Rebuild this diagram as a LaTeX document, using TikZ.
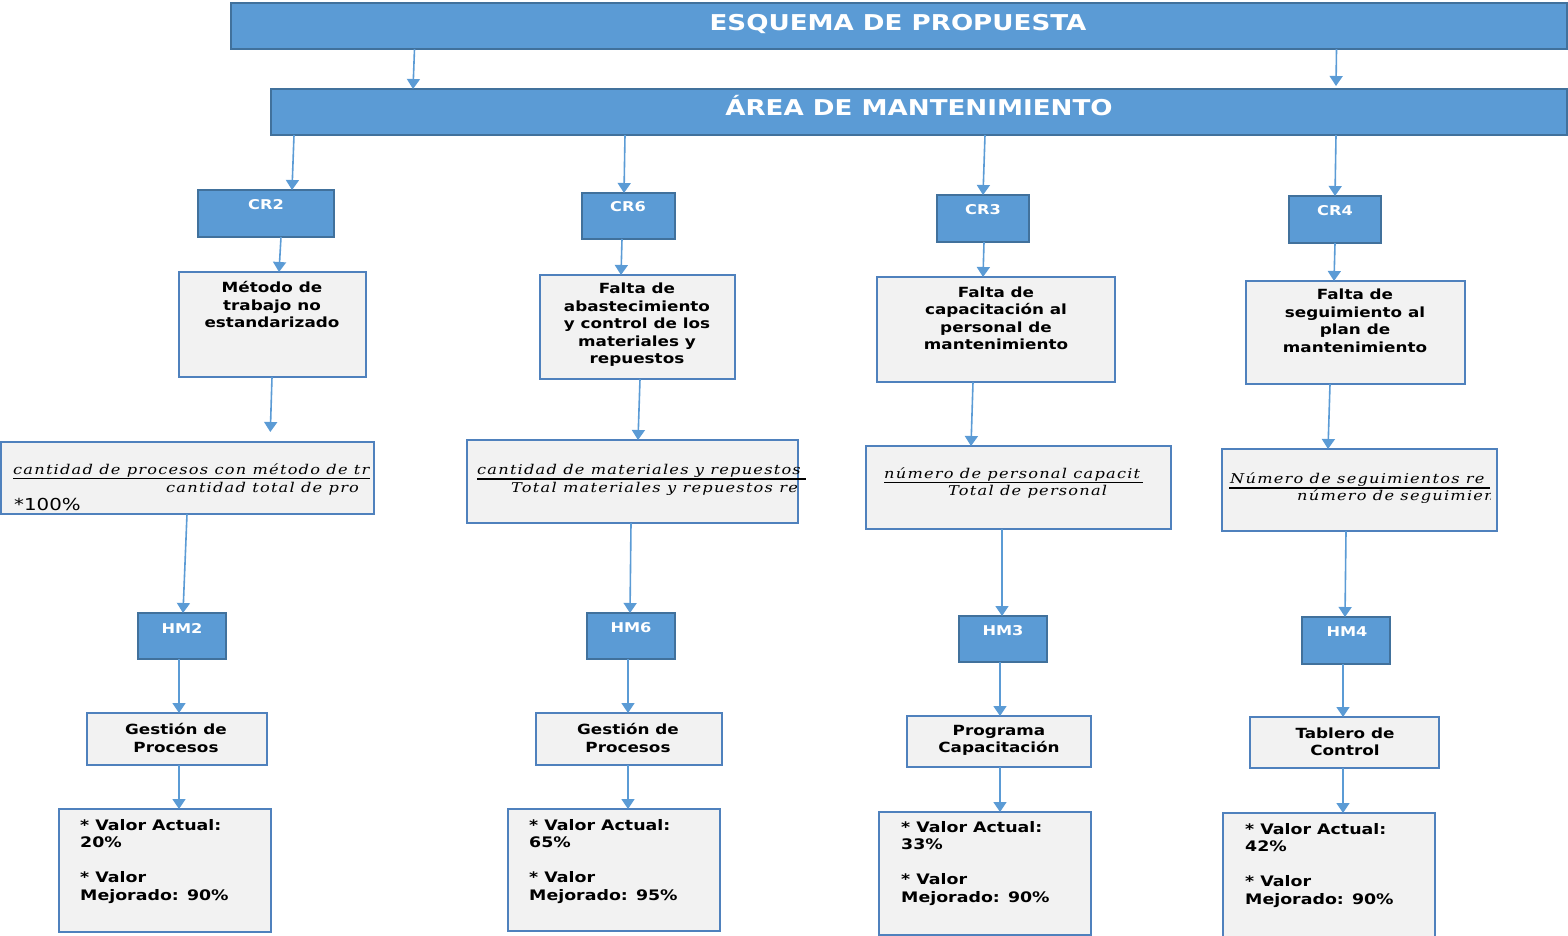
\documentclass[tikz,border=0pt]{standalone}
\usepackage{fontspec}
\usetikzlibrary{arrows.meta}
\newfontfamily\dvs[FakeStretch=1.2]{DejaVu Sans}
\newfontfamily\eqf[FakeStretch=1.2,LetterSpace=9]{DejaVu Serif}
\definecolor{boxblue}{HTML}{5B9BD5}
\definecolor{boxedge}{HTML}{41719C}
\definecolor{panel}{HTML}{F2F2F2}
\definecolor{panedge}{HTML}{4F81BD}
\begin{document}
\begin{tikzpicture}[x=1pt,y=-1pt,
  bluebox/.style={draw=boxedge, fill=boxblue, line width=1.4pt, inner sep=0pt, outer sep=0pt},
  greybox/.style={draw=panedge, fill=panel, line width=1.4pt, inner sep=0pt, outer sep=0pt},
  link/.style={draw=boxblue, line width=1.6pt, -{Triangle[width=13pt,length=10pt]}},
  head/.style={text=white, font=\dvs\bfseries\fontsize{21.8}{25}\selectfont, inner sep=0pt, anchor=base},
  tag/.style={text=white, font=\dvs\bfseries\fontsize{13.5}{15}\selectfont, inner sep=0pt},
  body/.style={font=\dvs\bfseries\fontsize{14}{17.5}\selectfont, inner sep=0pt, align=center},
  vals/.style={font=\dvs\bfseries\fontsize{14.5}{17.5}\selectfont, inner sep=0pt, align=left, anchor=north west},
  eq/.style={font=\eqf\itshape\fontsize{13.5}{15}\selectfont, inner sep=0pt, anchor=base west},
  pct/.style={font=\dvs\fontsize{16.5}{18}\selectfont, inner sep=0pt, anchor=base west},
  barline/.style={line width=1.6pt, black},
]
\useasboundingbox (0,0) rectangle (1568,935);

% banners
\node[bluebox, minimum width=1336, minimum height=46] (top) at (899,26) {};
\node[head] (toptxt) at (898,30) {ESQUEMA DE PROPUESTA};
\node[bluebox, minimum width=1296, minimum height=46] (area) at (919,112) {};
\node[head] (areatxt) at (919,115) {ÁREA DE MANTENIMIENTO};

% causes (CR)
\node[bluebox, minimum width=136, minimum height=47] (cr2) at (266,213.5) {};
\node[tag] (cr2t) at (266,205) {CR2};
\node[bluebox, minimum width=93, minimum height=46] (cr6) at (628.5,216) {};
\node[tag] (cr6t) at (628,207) {CR6};
\node[bluebox, minimum width=92, minimum height=47] (cr3) at (983,218.5) {};
\node[tag] (cr3t) at (983,210) {CR3};
\node[bluebox, minimum width=92, minimum height=47] (cr4) at (1335,219.5) {};
\node[tag] (cr4t) at (1335,211) {CR4};

% problem descriptions
\node[greybox, minimum width=187, minimum height=105] (p2) at (272.5,324.5) {};
\node[body] (p2t) at (272,304.5) {Método de\\trabajo no\\estandarizado};
\node[greybox, minimum width=195, minimum height=104] (p6) at (637.5,327) {};
\node[body] (p6t) at (637,325) {Falta de\\abastecimiento\\y control de los\\materiales y\\repuestos};
\node[greybox, minimum width=238, minimum height=105] (p3) at (996,329.5) {};
\node[body] (p3t) at (996,318.5) {Falta de\\capacitación al\\personal de\\mantenimiento};
\node[greybox, minimum width=219, minimum height=103] (p4) at (1355.5,332.5) {};
\node[body] (p4t) at (1355,321) {Falta de\\seguimiento al\\plan de\\mantenimiento};

% indicator formulas
\node[greybox, minimum width=373, minimum height=72] (f2) at (187.5,478) {};
\node[greybox, minimum width=331, minimum height=83] (f6) at (632.5,481.5) {};
\node[greybox, minimum width=305, minimum height=83] (f3) at (1018.5,487.5) {};
\node[greybox, minimum width=275, minimum height=82] (f4) at (1359.5,490) {};

\begin{scope}
  \clip (1,442) rectangle (370,514);
  \node[eq] (f2n) at (13,474) {cantidad de procesos con método de tr};
  \draw[barline] (13,478.5) -- (370,478.5);
  \node[eq] (f2d) at (166,492.5) {cantidad total de pro};
\end{scope}
\node[pct] (f2p) at (14,510) {*100\%};

\begin{scope}
  \clip (467,440) rectangle (806,523);
  \node[eq] (f6n) at (477,474.5) {cantidad de materiales y repuestos};
  \draw[barline] (477,479) -- (806,479);
  \node[eq] (f6d) at (511,492.5) {Total materiales y repuestos re};
\end{scope}

\begin{scope}
  \clip (866,446) rectangle (1143,529);
  \node[eq] (f3n) at (884,478) {número de personal capacit};
  \draw[barline] (884,482.5) -- (1143,482.5);
  \node[eq] (f3d) at (948,495.5) {Total de personal};
\end{scope}

\begin{scope}
  \clip (1222,449) rectangle (1490,531);
  \node[eq] (f4n) at (1230,483.5) {Número de seguimientos re};
  \draw[barline] (1229,488) -- (1490,488);
  \node[eq] (f4d) at (1297,500.5) {número de seguimien};
\end{scope}

% tools (HM)
\node[bluebox, minimum width=88, minimum height=46] (hm2) at (182,636) {};
\node[tag] (hm2t) at (182,628) {HM2};
\node[bluebox, minimum width=88, minimum height=46] (hm6) at (631,636) {};
\node[tag] (hm6t) at (631,628) {HM6};
\node[bluebox, minimum width=88, minimum height=46] (hm3) at (1003,639) {};
\node[tag] (hm3t) at (1003,631) {HM3};
\node[bluebox, minimum width=88, minimum height=47] (hm4) at (1346,640.5) {};
\node[tag] (hm4t) at (1347,632) {HM4};

% actions
\node[greybox, minimum width=180, minimum height=52] (g2) at (177,739) {};
\node[body] (g2t) at (176,738) {Gestión de\\Procesos};
\node[greybox, minimum width=186, minimum height=52] (g6) at (629,739) {};
\node[body] (g6t) at (628,738) {Gestión de\\Procesos};
\node[greybox, minimum width=184, minimum height=51] (g3) at (999,741.5) {};
\node[body] (g3t) at (999,740.5) {Programa\\Capacitación};
\node[greybox, minimum width=189, minimum height=51] (g4) at (1344.5,742.5) {};
\node[body] (g4t) at (1345,742) {Tablero de\\Control};

% values
\node[greybox, minimum width=212, minimum height=123] (v2) at (165,870.5) {};
\node[vals] (v2t) at (80,819) {* Valor Actual:\\20\%\\[17.5pt]* Valor\\Mejorado: 90\%};
\node[greybox, minimum width=212, minimum height=122] (v6) at (614,870) {};
\node[vals] (v6t) at (529,819) {* Valor Actual:\\65\%\\[17.5pt]* Valor\\Mejorado: 95\%};
\node[greybox, minimum width=212, minimum height=123] (v3) at (985,873.5) {};
\node[vals] (v3t) at (901,821) {* Valor Actual:\\33\%\\[17.5pt]* Valor\\Mejorado: 90\%};
\node[greybox, minimum width=212, minimum height=124] (v4) at (1329,875) {};
\node[vals] (v4t) at (1245,823) {* Valor Actual:\\42\%\\[17.5pt]* Valor\\Mejorado: 90\%};

% connectors
\draw[link] ([xshift=-484.5]top.south) -- ([xshift=-506]area.north);
\draw[link] ([xshift=437.5]top.south) -- ([xshift=417,yshift=3]area.north);

\draw[link] ([xshift=-625]area.south) -- ([xshift=26]cr2.north);
\draw[link] ([xshift=-294]area.south) -- ([xshift=-4.5]cr6.north);
\draw[link] ([xshift=66]area.south) -- ([xshift=0]cr3.north);
\draw[link] ([xshift=417]area.south) -- ([xshift=0]cr4.north);

\draw[link] ([xshift=15]cr2.south) -- ([xshift=6.5]p2.north);
\draw[link] ([xshift=-6.5]cr6.south) -- ([xshift=-16.5]p6.north);
\draw[link] ([xshift=1]cr3.south) -- ([xshift=-13]p3.north);
\draw[link] ([xshift=0]cr4.south) -- ([xshift=-21.5]p4.north);

\draw[link, shorten >=10pt] ([xshift=-0.5]p2.south) -- ([xshift=82.5]f2.north);
\draw[link] ([xshift=2.5]p6.south) -- ([xshift=5.5]f6.north);
\draw[link] ([xshift=-23]p3.south) -- ([xshift=-47.5]f3.north);
\draw[link] ([xshift=-25.5]p4.south) -- ([xshift=-31.5]f4.north);

\draw[link] ([xshift=-0.5]f2.south) -- ([xshift=1]hm2.north);
\draw[link] ([xshift=-1.5]f6.south) -- ([xshift=-1]hm6.north);
\draw[link] ([xshift=-16.5]f3.south) -- ([xshift=-1]hm3.north);
\draw[link] ([xshift=-13.5]f4.south) -- ([xshift=-1]hm4.north);

\draw[link] ([xshift=-3]hm2.south) -- ([xshift=2]g2.north);
\draw[link] ([xshift=-3]hm6.south) -- ([xshift=-1]g6.north);
\draw[link] ([xshift=-3]hm3.south) -- ([xshift=1]g3.north);
\draw[link] ([xshift=-3]hm4.south) -- ([xshift=-1.5]g4.north);

\draw[link] ([xshift=2]g2.south) -- ([xshift=14]v2.north);
\draw[link] ([xshift=-1]g6.south) -- ([xshift=14]v6.north);
\draw[link] ([xshift=1]g3.south) -- ([xshift=15]v3.north);
\draw[link] ([xshift=-1.5]g4.south) -- ([xshift=14]v4.north);
\end{tikzpicture}
\end{document}
